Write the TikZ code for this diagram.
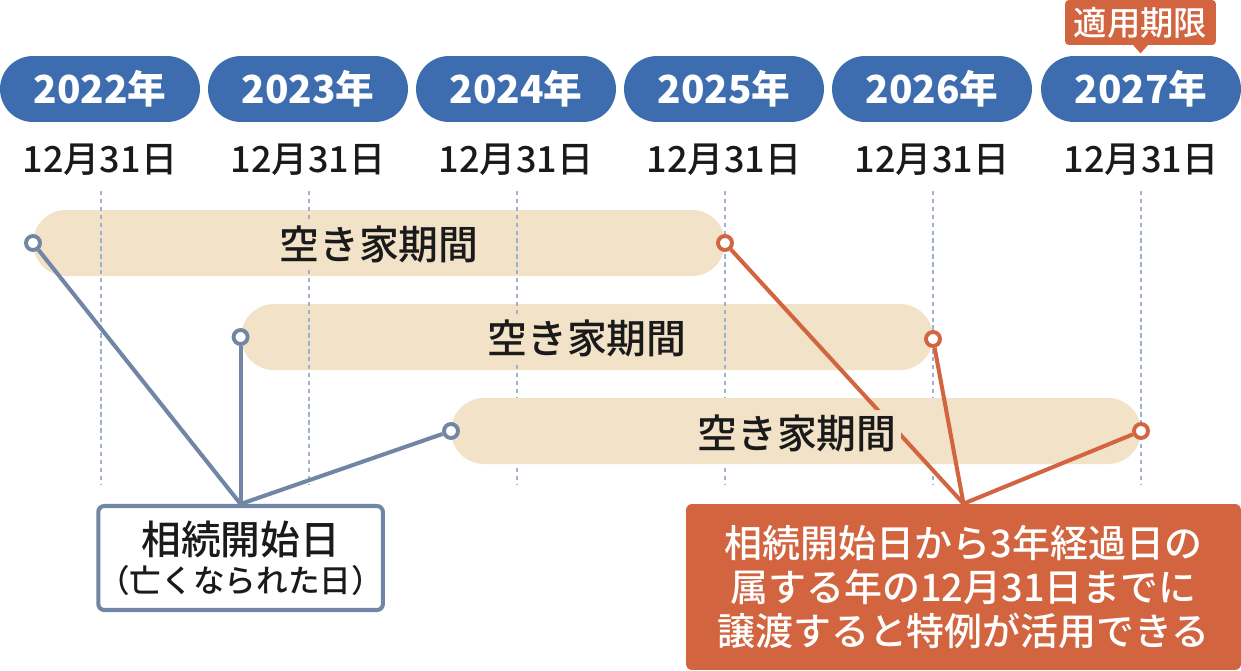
\documentclass[tikz,border=0pt]{standalone}
\usepackage{fontspec}
\setmainfont{Noto Sans CJK JP}
\newfontfamily\medfont{Noto Sans CJK JP Medium}
\usepackage{tikz}

\definecolor{yearblue}{HTML}{3D6DAF}
\definecolor{deadline}{HTML}{D2653F}
\definecolor{vacant}{HTML}{F2E2C8}
\definecolor{slate}{HTML}{7186A5}
\definecolor{gridblue}{HTML}{9FB2CC}
\definecolor{ink}{HTML}{1A1A1A}

\begin{document}
\begin{tikzpicture}[
    x=0.02cm, y=-0.02cm,
    yearpill/.style={fill=yearblue, text=white, rounded corners=0.66cm, minimum width=4cm, minimum height=1.32cm, inner sep=0pt, font=\fontsize{22}{24}\selectfont\bfseries},
    datelabel/.style={text=ink, inner sep=0pt, font=\medfont\fontsize{20.5}{24}\selectfont},
    vacantbar/.style={fill=vacant, rounded corners=0.66cm, minimum height=1.32cm, inner sep=0pt},
    vacantlabel/.style={fill=vacant, text=ink, inner xsep=2.5pt, inner ysep=0pt, minimum height=0.92cm, font=\medfont\fontsize{22.7}{24}\selectfont},
    startdot/.style={circle, draw=slate, fill=white, line width=2.2pt, minimum size=0.28cm, inner sep=0pt},
    enddot/.style={circle, draw=deadline, fill=white, line width=2.2pt, minimum size=0.28cm, inner sep=0pt},
    startline/.style={draw=slate, line width=2.3pt},
    endline/.style={draw=deadline, line width=2.3pt},
    gridline/.style={draw=gridblue, line width=1.3pt, dash pattern=on 2.5pt off 2pt}
]

\useasboundingbox (0,0) rectangle (1241,670);

\foreach \x/\year in {100/2022, 308/2023, 516/2024, 724/2025, 932/2026, 1141/2027} {
    \node[yearpill] (year\year) at (\x,89) {\year 年};
    \node[datelabel] (date\year) at (\x,160) {12月31日};
}

\foreach \x/\name in {101/a, 309/b, 517/c, 725/d, 933/e, 1141/f} {
    \coordinate (gridtop\name) at (\x,191);
    \coordinate (gridend\name) at (\x,484);
}

\node[vacantbar, minimum width=13.84cm] (bar1) at (379,243) {};
\node[vacantbar, minimum width=13.84cm] (bar2) at (587,337) {};

\foreach \name in {a,b,c,d,e,f} {
    \draw[gridline] (gridtop\name) -- (gridend\name);
}

\node[vacantbar, minimum width=13.80cm] (bar3) at (796,431) {};

\node[draw=slate, fill=white, line width=2.3pt, rounded corners=0.12cm, minimum width=5.66cm, minimum height=2.08cm, inner sep=0pt, align=center, text=ink] (heirbox) at (240.6,558) {{\medfont\fontsize{22.6}{26}\selectfont 相続開始日}\\[3pt]{\fontsize{18}{20}\selectfont\medfont （亡くなられた日）}};
\node[fill=deadline, text=white, rounded corners=0.12cm, minimum width=11.1cm, minimum height=3.32cm, inner sep=0pt, align=center, font=\medfont\fontsize{21.6}{25}\selectfont] (rulebox) at (963.5,587) {相続開始日から3年経過日の\\属する年の12月31日までに\\譲渡すると特例が活用できる};
\node[fill=deadline, text=white, rounded corners=0.08cm, minimum width=3.02cm, minimum height=0.9cm, inner sep=0pt, font=\medfont\fontsize{19}{22}\selectfont] (tag) at (1140.5,22.5) {適用期限};
\fill[deadline] (tag.south) ++(-8,-1) -- ++(16,0) -- ++(-8,9) -- cycle;

\node[startdot] (start1) at (33,243) {};
\node[startdot] (start2) at (240.6,337) {};
\node[startdot] (start3) at (451,431) {};
\node[enddot] (end1) at (725,243) {};
\node[enddot] (end2) at (933,339) {};
\node[enddot] (end3) at (1141,431) {};

\draw[startline] (start1) -- (heirbox.north);
\draw[startline] (start2) -- (heirbox.north);
\draw[startline] (start3) -- (heirbox.north);
\draw[endline] (end1) -- (rulebox.north);
\draw[endline] (end2) -- (rulebox.north);
\draw[endline] (end3) -- (rulebox.north);

\node[vacantlabel] (label1) at (379,244) {空き家期間};
\node[vacantlabel] (label2) at (587,338) {空き家期間};
\node[vacantlabel] (label3) at (797,433) {空き家期間};

\end{tikzpicture}
\end{document}
